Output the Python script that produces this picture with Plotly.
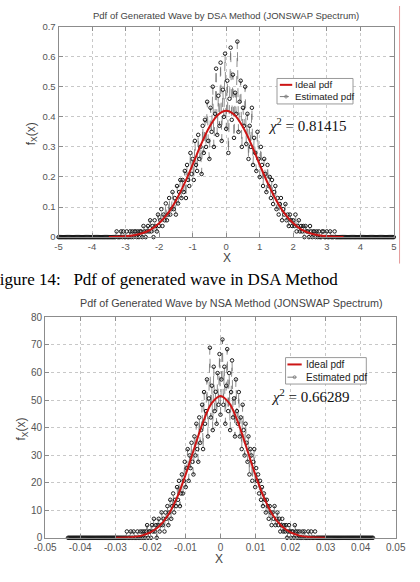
import numpy as np
import plotly.graph_objects as go

# ---------------- data ----------------
# Top panel (DSA method)
top_x_range = (-5.0, 5.0)
top_zero_pad = 50  # bins with zero estimate on each side
top_est_vals = [
    0, 0, 0.019, 0, 0, 0, 0.019, 0, 0.019, 0, 0, 0.019, 0, 0, 0.019, 0, 0.019, 0, 0.019, 0.019,
    0, 0.019, 0, 0.019, 0.019, 0, 0.037, 0.019, 0, 0.019, 0.037, 0.019, 0.056, 0.019, 0.037, 0, 0.056, 0.037, 0.019, 0.075,
    0.037, 0.056, 0.093, 0.037, 0.075, 0.056, 0.112, 0.056, 0.075, 0.13, 0.075, 0.093, 0.15, 0.093, 0.13, 0.075, 0.17, 0.112, 0.15, 0.19,
    0.13, 0.19, 0.15, 0.22, 0.13, 0.24, 0.19, 0.17, 0.28, 0.21, 0.26, 0.19, 0.32, 0.24, 0.22, 0.34, 0.26, 0.30, 0.21, 0.37,
    0.28, 0.39, 0.30, 0.45, 0.32, 0.26, 0.43, 0.35, 0.50, 0.30, 0.41, 0.56, 0.34, 0.47, 0.37, 0.58, 0.32, 0.49, 0.40, 0.61,
    0.36, 0.52, 0.28, 0.46, 0.63, 0.39, 0.54, 0.33, 0.48, 0.41, 0.65, 0.35, 0.45, 0.52, 0.30, 0.43, 0.37, 0.50, 0.31, 0.41,
    0.26, 0.37, 0.30, 0.43, 0.24, 0.33, 0.28, 0.22, 0.35, 0.26, 0.20, 0.30, 0.24, 0.17, 0.26, 0.21, 0.15, 0.24, 0.17, 0.20,
    0.13, 0.19, 0.11, 0.15, 0.17, 0.093, 0.13, 0.075, 0.11, 0.13, 0.056, 0.093, 0.075, 0.11, 0.056, 0.075, 0.037, 0.075, 0.056, 0.037,
    0.056, 0.037, 0.075, 0.019, 0.037, 0.056, 0.019, 0.037, 0.019, 0.037, 0, 0.037, 0.019, 0.019, 0, 0.037, 0.019, 0, 0.019, 0.019,
    0, 0.019, 0, 0.019, 0, 0, 0.019, 0.019, 0, 0, 0.019, 0, 0, 0.019, 0, 0, 0, 0.019, 0, 0, 0,
]
top_ideal_x = [-3.5, -3.25, -3.0, -2.75, -2.5, -2.25, -2.0, -1.75, -1.5, -1.25,
               -1.0, -0.75, -0.5, -0.25, 0.0, 0.25, 0.5, 0.75, 1.0, 1.25,
               1.5, 1.75, 2.0, 2.25, 2.5, 2.75, 3.0, 3.25, 3.5]
top_ideal_y = [0.0005, 0.0012, 0.0029, 0.0064, 0.013, 0.025, 0.046, 0.077, 0.121, 0.177,
               0.241, 0.308, 0.366, 0.406, 0.420, 0.406, 0.366, 0.308, 0.241, 0.177,
               0.121, 0.077, 0.046, 0.025, 0.013, 0.0064, 0.0029, 0.0012, 0.0005]
top_xticks = [-5, -4, -3, -2, -1, 0, 1, 2, 3, 4, 5]
top_xtick_labels = ["-5", "-4", "-3", "-2", "-1", "0", "1", "2", "3", "4", "5"]
top_yticks = [0, 0.1, 0.2, 0.3, 0.4, 0.5, 0.6, 0.7]
top_ytick_labels = ["0", "0.1", "0.2", "0.3", "0.4", "0.5", "0.6", "0.7"]
top_chi = "0.81415"

# Bottom panel (NSA method)
bot_x_range = (-0.0435, 0.0435)
bot_zero_pad = 58
bot_est_vals = [
    0, 0, 0, 2.3, 0, 0, 0, 2.3, 0, 0, 2.3, 0, 0, 0, 2.3, 0, 0, 2.3, 0, 2.3,
    0, 2.3, 0, 2.3, 4.6, 0, 2.3, 2.3, 0, 4.6, 2.3, 6.9, 2.3, 4.6, 0, 4.6, 6.9, 2.3, 4.6, 9.2,
    4.6, 6.9, 2.3, 9.2, 6.9, 11.5, 4.6, 9.2, 13.8, 6.9, 11.5, 16.1, 9.2, 13.8, 11.5, 18.4, 13.8, 20.7, 11.5, 16.1,
    23.0, 16.1, 20.7, 27.6, 18.4, 25.3, 32.2, 20.7, 29.9, 25.3, 34.5, 27.6, 23.0, 36.8, 29.9, 41.4, 32.2, 27.6, 43.7, 34.5,
    39.1, 48.3, 32.2, 52.9, 41.4, 46.0, 57.5, 36.8, 50.6, 69.0, 43.7, 55.2, 39.1, 62.1, 46.0, 53.0, 41.4, 59.8, 48.3, 66.7,
    44.7, 57.5, 72.0, 48.3, 62.1, 41.4, 55.2, 68.5, 46.0, 59.8, 39.1, 52.9, 64.4, 43.7, 50.6, 36.8, 57.5, 46.0, 41.4, 52.9,
    36.8, 43.7, 32.2, 48.3, 39.1, 29.9, 41.4, 34.5, 27.6, 36.8, 23.0, 32.2, 29.9, 20.7, 27.6, 32.2, 18.4, 25.3, 20.7, 23.0,
    16.1, 20.7, 13.8, 18.4, 11.5, 16.1, 13.8, 9.2, 13.8, 11.5, 6.9, 11.5, 9.2, 4.6, 9.2, 6.9, 11.5, 4.6, 6.9, 9.2,
    4.6, 6.9, 2.3, 4.6, 6.9, 2.3, 4.6, 2.3, 4.6, 0, 2.3, 4.6, 2.3, 0, 2.3, 2.3, 0, 4.6, 2.3, 0,
    2.3, 0, 2.3, 0, 0, 2.3, 0, 2.3, 0, 0, 0, 2.3, 0, 0, 2.3, 0, 0, 0, 2.3, 0, 0,
]
bot_ideal_x = [-0.03, -0.0275, -0.025, -0.0225, -0.02, -0.0175, -0.015, -0.0125, -0.01,
               -0.0075, -0.005, -0.0025, 0.0, 0.0025, 0.005, 0.0075, 0.01, 0.0125,
               0.015, 0.0175, 0.02, 0.0225, 0.025, 0.0275, 0.03]
bot_ideal_y = [0.03, 0.10, 0.30, 0.80, 1.93, 4.16, 8.10, 14.3, 22.7,
               32.4, 41.9, 48.9, 51.5, 48.9, 41.9, 32.4, 22.7, 14.3,
               8.10, 4.16, 1.93, 0.80, 0.30, 0.10, 0.03]
bot_xticks = [-0.05, -0.04, -0.03, -0.02, -0.01, 0, 0.01, 0.02, 0.03, 0.04, 0.05]
bot_xtick_labels = ["-0.05", "-0.04", "-0.03", "-0.02", "-0.01", "0",
                    "0.01", "0.02", "0.03", "0.04", "0.05"]
bot_yticks = [0, 10, 20, 30, 40, 50, 60, 70, 80]
bot_ytick_labels = ["0", "10", "20", "30", "40", "50", "60", "70", "80"]
bot_chi = "0.66289"

legend_names = ["Ideal pdf", "Estimated pdf"]
caption = "Figure 14:\u00a0\u00a0\u00a0Pdf of generated wave in DSA Method"

# ---------------- build series ----------------
top_est = [0.0] * top_zero_pad + top_est_vals + [0.0] * top_zero_pad
top_est_x = np.linspace(top_x_range[0], top_x_range[1], len(top_est))
bot_est = [0.0] * bot_zero_pad + bot_est_vals + [0.0] * bot_zero_pad
bot_est_x = np.linspace(bot_x_range[0], bot_x_range[1], len(bot_est))

W, H = 420, 582
def px(x):
    return x / W
def py(y):
    return 1 - y / H

SANS = "Liberation Sans, Arial, sans-serif"
SERIF = "Liberation Serif, Times New Roman, serif"
GRAY_TXT = "#444444"
RED = "#cc1515"
EST_LINE = "#5e5e5e"
EST_MARK = "#1a1a1a"

fig = go.Figure()

est_style = dict(
    mode="lines+markers", cliponaxis=False, showlegend=False,
    line=dict(color=EST_LINE, width=0.7, dash="dash"),
    marker=dict(symbol="circle-open", size=3.5, color=EST_MARK, line=dict(width=1)),
)
ideal_style = dict(mode="lines", showlegend=False,
                   line=dict(color=RED, width=2, shape="spline"))

fig.add_trace(go.Scatter(x=top_est_x, y=top_est, name=legend_names[1],
                         xaxis="x", yaxis="y", **est_style))
fig.add_trace(go.Scatter(x=top_ideal_x, y=top_ideal_y, name=legend_names[0],
                         xaxis="x", yaxis="y", **ideal_style))
fig.add_trace(go.Scatter(x=bot_est_x, y=bot_est, name=legend_names[1],
                         xaxis="x2", yaxis="y2", **est_style))
fig.add_trace(go.Scatter(x=bot_ideal_x, y=bot_ideal_y, name=legend_names[0],
                         xaxis="x2", yaxis="y2", **ideal_style))

# caption between the panels: right-anchored text on a full-page pixel overlay,
# so its first letter is cut by the page edge as in the original
fig.add_trace(go.Scatter(x=[344], y=[281], mode="text", text=[caption],
                         textposition="middle left", cliponaxis=False, showlegend=False,
                         hoverinfo="skip",
                         textfont=dict(family=SERIF, size=17, color="#000000"),
                         xaxis="x3", yaxis="y3"))

def axis_common(fsize):
    return dict(
        showline=True, mirror="ticks", linecolor="#8c8c8c", linewidth=1,
        ticks="inside", ticklen=4, tickcolor="#8c8c8c",
        showgrid=True, gridcolor="#c8c8c8", griddash="dot", gridwidth=1,
        zeroline=False, tickfont=dict(family=SANS, size=fsize, color="#555555"),
    )

hidden = dict(visible=False, showgrid=False, zeroline=False, fixedrange=True)

fig.update_layout(
    width=W, height=H,
    margin=dict(l=0, r=0, t=0, b=0),
    paper_bgcolor="white", plot_bgcolor="rgba(0,0,0,0)",
    showlegend=False,
    xaxis=dict(domain=[px(50), px(403)], anchor="y", range=[-5, 5],
               tickvals=top_xticks, ticktext=top_xtick_labels, **axis_common(9.5)),
    yaxis=dict(domain=[py(236), py(21)], anchor="x", range=[0, 0.7],
               tickvals=top_yticks, ticktext=top_ytick_labels, **axis_common(9.5)),
    xaxis2=dict(domain=[px(36), px(405)], anchor="y2", range=[-0.05, 0.05],
                tickvals=bot_xticks, ticktext=bot_xtick_labels, **axis_common(10)),
    yaxis2=dict(domain=[py(543), py(318)], anchor="x2", range=[0, 80],
                tickvals=bot_yticks, ticktext=bot_ytick_labels, **axis_common(10)),
    xaxis3=dict(domain=[0, 1], anchor="y3", range=[0, W], **hidden),
    yaxis3=dict(domain=[0, 1], anchor="x3", range=[H, 0], **hidden),
)

ann = []
shapes = []

def text(t, x, y, size, family=SANS, color=GRAY_TXT, xanchor="center", angle=0):
    ann.append(dict(text=t, x=px(x), y=py(y), xref="paper", yref="paper",
                    xanchor=xanchor, yanchor="middle", showarrow=False,
                    textangle=angle, font=dict(family=family, size=size, color=color)))

# titles
text("Pdf of Generated Wave by DSA Method (JONSWAP Spectrum)", 226, 10, 9.5)
text("Pdf of Generated Wave by NSA Method (JONSWAP Spectrum)", 232, 303, 10.8)
# axis labels
text("X", 227, 257, 12)
text("X", 219, 565, 12)
text("f<sub>X</sub>(x)", 22, 130, 12, angle=-90)
text("f<sub>X</sub>(x)", 12, 432, 12, angle=-90)
# chi-square annotations
text("<i>χ</i><sup>2</sup> = " + top_chi, 268, 122, 15, family=SERIF, color="#111111", xanchor="left")
text("<i>χ</i><sup>2</sup> = " + bot_chi, 272, 398, 15, family=SERIF, color="#111111", xanchor="left")

# legends (drawn as boxes with samples)
def legend_box(x0, y0, x1, y1, line_x0, line_x1, text_x, row1, row2, fsize):
    shapes.append(dict(type="rect", xref="paper", yref="paper",
                       x0=px(x0), x1=px(x1), y0=py(y1), y1=py(y0),
                       line=dict(color="#9a9a9a", width=1), fillcolor="white", layer="above"))
    shapes.append(dict(type="line", xref="paper", yref="paper",
                       x0=px(line_x0), x1=px(line_x1), y0=py(row1), y1=py(row1),
                       line=dict(color=RED, width=2), layer="above"))
    shapes.append(dict(type="line", xref="paper", yref="paper",
                       x0=px(line_x0), x1=px(line_x1), y0=py(row2), y1=py(row2),
                       line=dict(color=EST_LINE, width=0.8, dash="dash"), layer="above"))
    cx = (line_x0 + line_x1) / 2
    shapes.append(dict(type="circle", xref="paper", yref="paper",
                       x0=px(cx - 1.5), x1=px(cx + 1.5), y0=py(row2 + 1.5), y1=py(row2 - 1.5),
                       line=dict(color="#777777", width=0.8), layer="above"))
    text(legend_names[0], text_x, row1, fsize, color="#222222", xanchor="left")
    text(legend_names[1], text_x, row2, fsize, color="#222222", xanchor="left")

legend_box(280, 74, 360, 100, 283, 296, 297, 80.5, 92.5, 9.7)
legend_box(289, 359, 374, 386, 291, 306, 308, 366, 379, 10)

# thin red rule at the right of the upper panel
shapes.append(dict(type="line", xref="paper", yref="paper", x0=px(409), x1=px(409),
                   y0=py(263), y1=1, line=dict(color="#e59a9a", width=1)))

fig.update_layout(annotations=ann, shapes=shapes)

fig.write_html("out.html")
